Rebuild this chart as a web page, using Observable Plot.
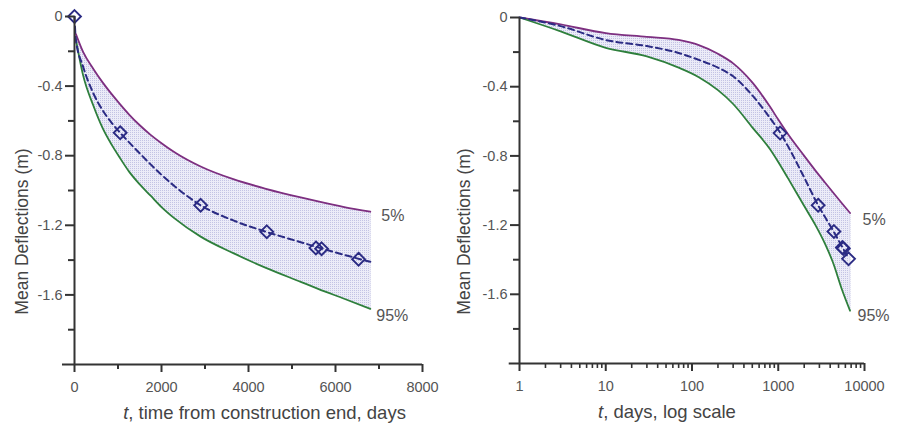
<!DOCTYPE html>
<html><head><meta charset="utf-8">
<script src="https://cdn.jsdelivr.net/npm/d3@7"></script>
<script src="https://cdn.jsdelivr.net/npm/@observablehq/plot@0.6"></script>
<style>
html,body{margin:0;padding:0;background:#fff;}
#wrap{display:flex;width:899px;height:426px;overflow:hidden;}
svg{display:block;}
</style></head><body><div id="wrap"></div>
<script>
// ---------- data ----------
// Left panel (linear time axis)
const leftT   = [30, 200, 430, 650, 850, 1050, 1250, 1500, 1750, 2000, 2300, 2900, 3650, 4400, 5200, 5600, 6200, 6800];
const leftP5  = [-0.10, -0.205, -0.30, -0.38, -0.445, -0.505, -0.562, -0.625, -0.68, -0.728, -0.78, -0.862, -0.935, -0.99, -1.04, -1.063, -1.095, -1.122];
const leftP95 = [-0.13, -0.34, -0.51, -0.643, -0.735, -0.815, -0.89, -0.965, -1.03, -1.095, -1.16, -1.265, -1.36, -1.445, -1.525, -1.565, -1.622, -1.68];
const leftMeanT = [0, 30, 200, 430, 650, 850, 1050, 1250, 1500, 1750, 2000, 2300, 2900, 3650, 4400, 5200, 5600, 6200, 6800];
const leftMean  = [0, -0.13, -0.29, -0.44, -0.54, -0.61, -0.668, -0.722, -0.787, -0.85, -0.91, -0.975, -1.085, -1.172, -1.237, -1.297, -1.327, -1.37, -1.41];

// Right panel (log time axis)
const rightT   = [1, 3, 10, 30, 70, 120, 200, 300, 500, 800, 1000, 1300, 2000, 2700, 3500, 4300, 5500, 6800];
const rightP5  = [0, -0.04, -0.09, -0.112, -0.13, -0.16, -0.21, -0.265, -0.375, -0.515, -0.59, -0.675, -0.80, -0.885, -0.955, -1.01, -1.075, -1.13];
const rightP95 = [0, -0.08, -0.175, -0.225, -0.29, -0.345, -0.42, -0.50, -0.635, -0.76, -0.835, -0.93, -1.09, -1.20, -1.31, -1.415, -1.575, -1.695];
const rightMeanT = [1, 3, 10, 30, 70, 120, 200, 300, 500, 800, 1050, 1300, 2000, 2900, 3500, 4420, 5500, 6500];
const rightMean  = [0, -0.05, -0.13, -0.165, -0.205, -0.245, -0.29, -0.34, -0.45, -0.58, -0.665, -0.745, -0.925, -1.085, -1.155, -1.24, -1.325, -1.39];

// Observed (diamond markers), shared by both panels
const markerT = [0, 1050, 2900, 4420, 5550, 5680, 6530];
const markerV = [0, -0.668, -1.085, -1.237, -1.33, -1.335, -1.395];

// Tick values and labels
const yMajor = [0, -0.4, -0.8, -1.2, -1.6];
const yMinor = [-0.2, -0.6, -1.0, -1.4, -1.8];
const xMajorLeft = [0, 2000, 4000, 6000, 8000];
const xMinorLeft = [1000, 3000, 5000, 7000];
const xMajorRight = [1, 10, 100, 1000, 10000];
const xMinorRight = [2,3,4,5,6,7,8,9,20,30,40,50,60,70,80,90,200,300,400,500,600,700,800,900,2000,3000,4000,5000,6000,7000,8000,9000];
const pctLabels = ["5%", "95%"];
const yTitle = "Mean Deflections (m)";
const xTitleLeft = "t, time from construction end, days";
const xTitleRight = "t, days, log scale";

// ---------- styling ----------
const C5 = "#7d2f80", C95 = "#2e7f3c", CM = "#2b2b84", AX = "#333", TX = "#555";
const FONT = "'Liberation Sans', Arial, sans-serif";

const leftRows = leftT.map((t, i) => ({t, p5: leftP5[i], p95: leftP95[i]}));
const leftMeanRows = leftMeanT.map((t, i) => ({t, v: leftMean[i]}));
const rightRows = rightT.map((t, i) => ({t, p5: rightP5[i], p95: rightP95[i]}));
const rightMeanRows = rightMeanT.map((t, i) => ({t, v: rightMean[i]}));
const markerRows = markerT.map((t, i) => ({t, v: markerV[i]}));
const yFmt = d => d === 0 ? "0" : d.toFixed(1);

function commonMarks(rows, meanRows, marks, end, o) {
  return [
    Plot.areaY(rows, {x: "t", y1: "p95", y2: "p5", fill: "url(#bandDots)", curve: "monotone-x"}),
    Plot.ruleX([end], {x: "t", y1: "p95", y2: "p5", stroke: "#b9b9de", strokeWidth: 1, strokeDasharray: "1,1"}),
    Plot.lineY(rows, {x: "t", y: "p5", stroke: C5, strokeWidth: 1.8, curve: "monotone-x"}),
    Plot.lineY(rows, {x: "t", y: "p95", stroke: C95, strokeWidth: 1.8, curve: "monotone-x"}),
    Plot.lineY(meanRows, {x: "t", y: "v", stroke: CM, strokeWidth: 2, strokeDasharray: "6,4", curve: "monotone-x"}),
    Plot.dot(marks, {x: "t", y: "v", symbol: "diamond2", r: 5.8, stroke: CM, strokeWidth: 1.9, fill: "none"}),
    Plot.text([end], {x: "t", y: "p5", text: () => pctLabels[0], textAnchor: "start", dx: o.dx5, dy: o.dy5, fontSize: 16, fill: TX}),
    Plot.text([end], {x: "t", y: "p95", text: () => pctLabels[1], textAnchor: "start", dx: o.dx95, dy: o.dy95, fontSize: 16, fill: TX}),
    Plot.axisY({ticks: yMajor, tickSize: 9, tickPadding: 3, tickFormat: yFmt, label: null, stroke: AX, strokeWidth: 2, fill: TX}),
    Plot.axisY({ticks: yMinor, tickSize: 6, tickFormat: () => "", label: null, stroke: AX, strokeWidth: 2})
  ];
}

const left = Plot.plot({
  width: 449, height: 426,
  marginLeft: 74, marginRight: 27, marginTop: 16, marginBottom: 62,
  x: {domain: [0, 8000], label: null},
  y: {domain: [-2, 0], label: null},
  style: {fontFamily: FONT, fontSize: "14.5px", color: TX, background: "white"},
  marks: [
    ...commonMarks(leftRows, leftMeanRows, markerRows, leftRows[leftRows.length - 1], {dx5: 11, dy5: 4, dx95: 6, dy95: 7}),
    Plot.axisX({ticks: xMajorLeft, tickSize: 8, tickPadding: 9, tickFormat: d3.format("d"), label: null, stroke: AX, strokeWidth: 2, fill: TX}),
    Plot.axisX({ticks: xMinorLeft, tickSize: 5, tickFormat: () => "", label: null, stroke: AX, strokeWidth: 2}),
    Plot.ruleY([-2], {x1: -276, x2: 8000, stroke: AX, strokeWidth: 2}),
    Plot.ruleX([0], {y1: -2, y2: 0, stroke: AX, strokeWidth: 2}),
    Plot.text([xTitleLeft], {frameAnchor: "bottom", textAnchor: "middle", lineAnchor: "middle", dx: 16, dy: 49, fontSize: 18.5, fill: "#444"}),
    Plot.text([yTitle], {frameAnchor: "left", textAnchor: "middle", lineAnchor: "middle", rotate: -90, dx: -52, dy: 41, fontSize: 17.5, fill: "#444"})
  ]
});

const right = Plot.plot({
  width: 450, height: 426,
  marginLeft: 70, marginRight: 35, marginTop: 17, marginBottom: 63,
  x: {type: "log", domain: [1, 10000], label: null},
  y: {domain: [-2, 0], label: null},
  style: {fontFamily: FONT, fontSize: "14.5px", color: TX, background: "white"},
  marks: [
    ...commonMarks(rightRows, rightMeanRows, markerRows.filter(d => d.t > 0), rightRows[rightRows.length - 1], {dx5: 12.5, dy5: 6.5, dx95: 7.5, dy95: 5.5}),
    Plot.axisX({ticks: xMajorRight, tickSize: 8, tickPadding: 9, tickFormat: d3.format("d"), label: null, stroke: AX, strokeWidth: 2, fill: TX}),
    Plot.axisX({ticks: xMinorRight, tickSize: 5, tickFormat: () => "", label: null, stroke: AX, strokeWidth: 1.6}),
    Plot.ruleY([-2], {x1: 0.76, x2: 10000, stroke: AX, strokeWidth: 2}),
    Plot.ruleX([1], {y1: -2, y2: 0, stroke: AX, strokeWidth: 2}),
    Plot.text([xTitleRight], {frameAnchor: "bottom", textAnchor: "middle", lineAnchor: "middle", dx: -25, dy: 49, fontSize: 18.5, fill: "#444"}),
    Plot.text([yTitle], {frameAnchor: "left", textAnchor: "middle", lineAnchor: "middle", rotate: -90, dx: -55, dy: 41, fontSize: 17.5, fill: "#444"})
  ]
});

const wrap = document.getElementById("wrap");
wrap.appendChild(left);
wrap.appendChild(right);

// dotted band pattern
const defs = d3.select(left).insert("defs", ":first-child");
const pat = defs.append("pattern").attr("id", "bandDots").attr("patternUnits", "userSpaceOnUse").attr("width", 2).attr("height", 2);
pat.append("rect").attr("width", 2).attr("height", 2).attr("fill", "#ececf8");
pat.append("rect").attr("width", 1).attr("height", 1).attr("fill", "#c3c3e4");

// italic "t" in the x-axis titles
for (const svg of [left, right]) {
  d3.select(svg).selectAll("text").filter(function() { return this.textContent.startsWith("t, "); })
    .each(function() {
      const rest = this.textContent.slice(1);
      this.textContent = "";
      const s = d3.select(this);
      s.append("tspan").attr("font-style", "italic").text("t");
      s.append("tspan").text(rest);
    });
}
</script></body></html>
